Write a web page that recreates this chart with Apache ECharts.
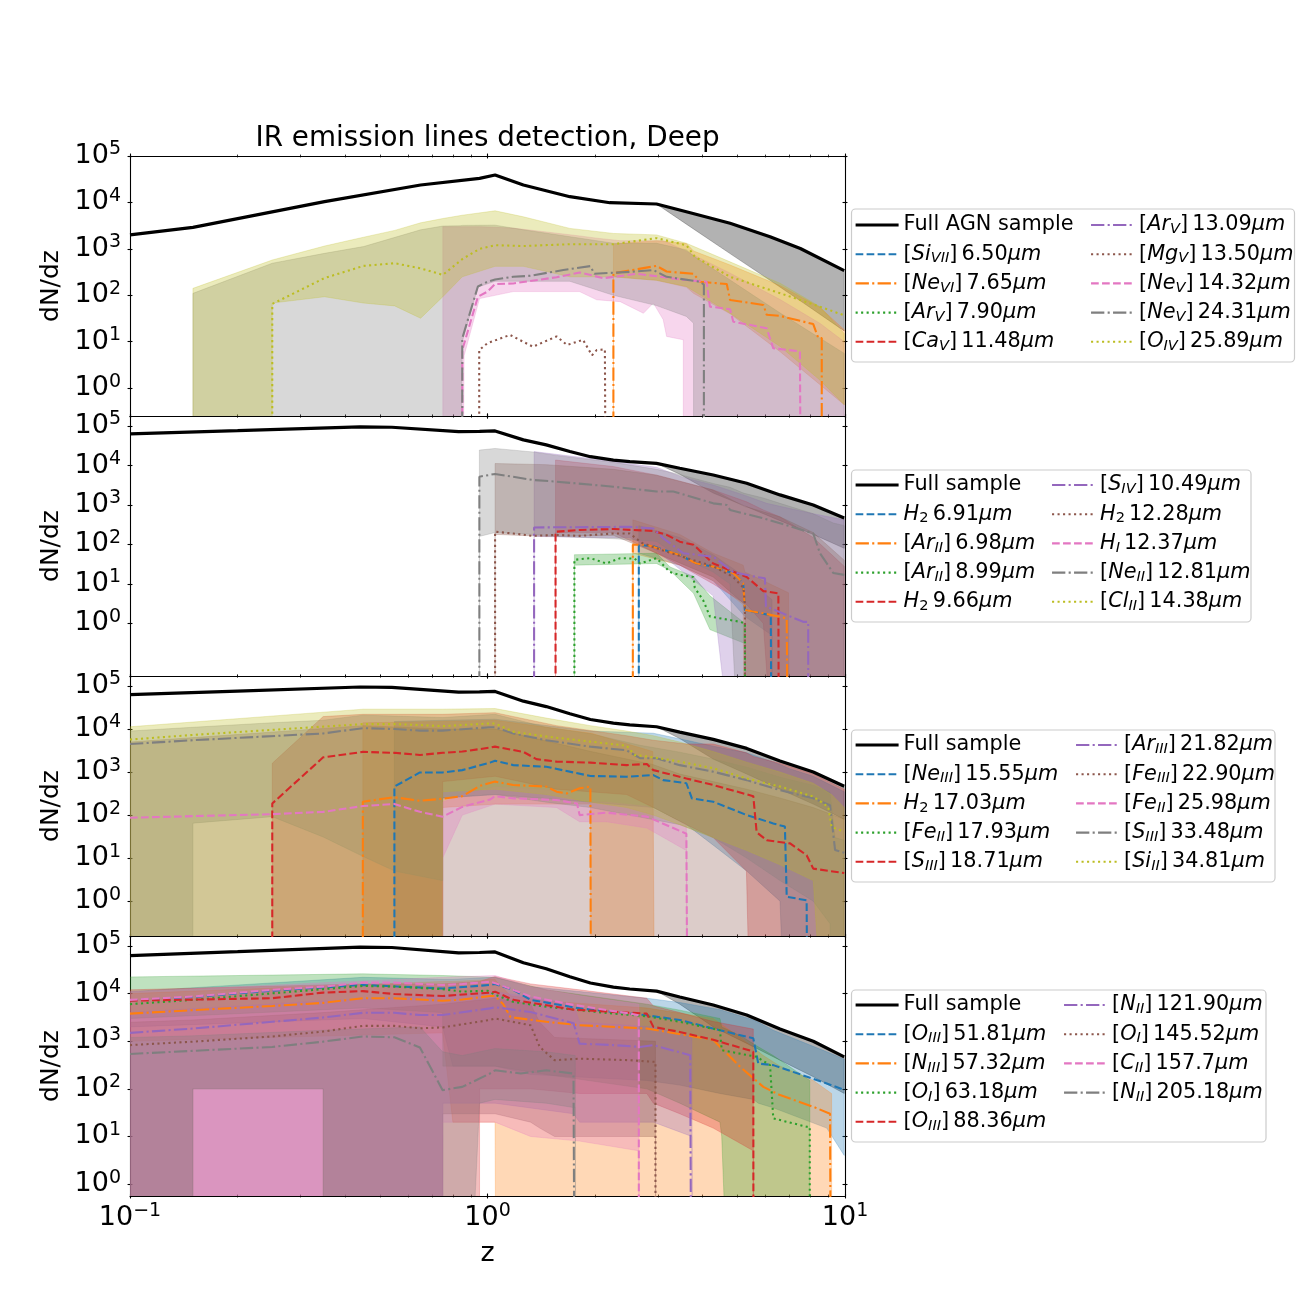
<!DOCTYPE html>
<html><head><meta charset="utf-8">
<script src="https://cdn.jsdelivr.net/npm/echarts@6/dist/echarts.min.js"></script>
<style>html,body{margin:0;padding:0;background:#fff}#chart{width:1300px;height:1300px}</style>
</head><body><div id="chart"></div>
<script>
// ---------------- DATA (z, value) for lines; (z, lower, upper) for bands ----------------
// Panel 1
const p1_full = [[0.1,2000],[0.15,2900],[0.35,10400],[0.65,23700],[0.95,33000],[1.05,39000],[1.26,23700],[1.7,13300],[2.2,9860],[2.97,9250],[3.6,6300],[4.77,3550],[6.17,1830],[7.5,1020],[9.95,340]];
const p1_full_band = [[2.97,9250,9250],[3.6,3400,6300],[4.77,790,3550],[6.17,210,1830],[7.5,76,1020],[9.95,17,340]];
const p1_NeVI = [[2.25,0],[2.25,297],[2.97,430],[3.17,325],[3.77,290],[3.93,196],[4.67,175],[4.77,79],[5.91,62],[6.04,38],[6.58,36],[8.15,24],[8.42,12],[8.61,12],[8.61,0]];
const p1_NeVI_band = [[2.25,0,0],[2.25,250,1270],[2.97,210,1500],[3.6,150,1300],[3.77,110,900],[4.77,40,450],[6.6,6,160],[8.5,1.2,55],[9.95,0.44,18]];
const p1_MgV = [[0.948,0],[0.948,6.6],[1.0,9.3],[1.156,14],[1.34,7.8],[1.56,13],[1.67,8.5],[1.85,11],[1.96,5.1],[2.02,6.6],[2.13,6.8],[2.15,6.8],[2.15,0]];
const p1_NeV14 = [[0.85,0],[0.85,6.6],[0.94,93],[1.0,120],[1.05,174],[1.18,180],[1.56,245],[1.81,310],[2.11,234],[2.61,290],[3.04,252],[3.45,220],[4.10,195],[4.19,57],[4.77,50],[4.87,27],[6.04,19.5],[6.30,7.2],[7.48,6.2],[7.56,6.2],[7.56,0]];
const p1_NeV14_band = [[0.75,0,0],[0.75,0,3000],[0.85,0,3000],[0.86,5,3000],[0.95,85,3000],[1.18,120,2800],[1.81,120,1900],[2.02,80,1700],[2.35,73,1500],[2.73,41,1500],[2.91,68,1500],[3.1,30,1500],[3.17,13,1400],[3.53,11,950],[3.53,0,950],[4.77,0,300],[6.6,0,80],[8.5,0,25],[9.95,0,10]];
const p1_NeV24 = [[0.85,0],[0.85,11.8],[0.94,155],[1.0,196],[1.05,218],[1.18,250],[1.315,263],[1.63,350],[1.94,425],[1.99,290],[2.5,320],[2.91,350],[3.17,250],[3.93,195],[4.03,170],[4.03,0]];
const p1_NeV24_band = [[0.15,0,0],[0.15,0,110],[0.25,0,490],[0.35,0,800],[0.45,0,1120],[0.65,0,2570],[0.75,0,3100],[0.84,0,3150],[0.85,10,3200],[0.94,150,3220],[1.05,200,3240],[1.26,200,2570],[1.7,200,1830],[2.25,100,1320],[2.97,60,1320],[3.6,35,950],[3.77,25,700],[3.77,0,700],[4.77,0,214],[6.6,0,41],[9.95,0,5.6]];
const p1_OIV = [[0.25,0],[0.25,65],[0.35,235],[0.45,430],[0.55,490],[0.65,380],[0.75,275],[0.85,600],[0.95,1000],[1.05,1200],[1.26,1150],[1.7,1260],[2.25,1260],[2.97,1700],[3.6,1200],[3.8,680],[4.77,250],[6.6,110],[8.5,57],[9.95,37]];
const p1_OIV_band = [[0.15,0,0],[0.15,0,141],[0.25,0,575],[0.25,68,575],[0.35,93,1150],[0.45,68,1780],[0.55,59,2500],[0.65,32,3640],[0.75,93,4500],[0.85,250,5300],[1.05,420,6600],[1.26,420,4900],[1.7,250,2760],[2.25,250,2150],[2.97,210,2000],[3.6,155,1320],[4.77,41,525],[6.6,7.8,180],[8.5,1.5,57],[9.95,0.44,15]];

// Full sample (panels 2-4)
const full_sample = [[0.1,63000],[0.2,76000],[0.44,95000],[0.54,93000],[0.83,72000],[0.95,73000],[1.05,75000],[1.26,44500],[1.46,33300],[1.7,22600],[1.94,16700],[2.25,13700],[2.5,12500],[2.97,11300],[3.45,8500],[4.28,5750],[5.31,3550],[6.58,1800],[8.15,1000],[9.95,470]];
const full_sample_band = [[2.97,11300,11300],[3.45,6000,8500],[4.28,2000,5750],[5.31,900,3550],[6.58,400,1800],[8.15,180,1000],[9.95,80,470]];

// Panel 2
const p2_H2_691 = [[2.65,0],[2.65,98],[2.91,90],[3.45,54],[3.84,33],[4.28,27.5],[4.87,18.6],[5.19,10.5],[5.25,2.2],[6.2,1.6],[6.25,1.6],[6.25,0]];
const p2_H2_691_band = [[2.65,0,0],[2.65,60,300],[3.45,30,150],[4.28,12,55],[5.25,1.5,15],[6.25,0.5,4],[6.26,0,0]];
const p2_ArII_698 = [[2.55,0],[2.55,98],[2.79,98],[3.45,54],[3.84,33],[4.28,27.5],[4.87,18.6],[5.19,10.5],[5.25,2.2],[5.91,1.8],[6.87,1.35],[6.95,1.35],[6.95,0]];
const p2_ArII_698_band = [[2.55,0,0],[2.55,60,420],[3.45,30,180],[4.28,12,60],[5.19,3,30],[5.25,0,20],[6.95,0,6],[7.0,0,0]];
const p2_ArII_899 = [[1.75,0],[1.75,41],[1.94,45],[2.15,33],[2.35,45],[2.58,44],[2.67,33],[2.97,45],[3.24,20],[3.45,17],[3.77,15],[3.8,8],[4.01,3.9],[4.19,1.5],[5.09,1.1],[5.25,1.0],[5.25,0]];
const p2_ArII_899_band = [[1.75,0,0],[1.75,30,55],[2.97,33,60],[3.24,22,27],[3.77,5.8,15.5],[4.19,0.7,5],[5.25,0.31,1.0],[5.26,0,0]];
const p2_H2_966 = [[1.55,0],[1.55,210],[1.81,233],[2.25,246],[2.91,220],[3.17,175],[3.45,118],[3.77,98],[4.28,33],[5.31,15],[5.91,6.6],[6.51,5.8],[6.54,5.8],[6.54,0]];
const p2_H2_966_band = [[1.55,0,0],[1.55,200,13700],[2.25,200,9400],[2.97,60,5700],[3.45,30,4000],[4.28,10,2400],[5.31,3,1200],[5.91,1,750],[6.58,0,500],[8.15,0,150],[9.95,0,28]];
const p2_SIV = [[1.35,0],[1.35,270],[2.5,280],[2.91,255],[3.10,145],[3.53,60],[4.28,49],[4.87,20],[5.66,15],[5.97,14],[6.01,2.7],[7.64,1.1],[7.89,1.1],[7.89,0]];
const p2_SIV_band = [[1.35,0,0],[1.35,160,22500],[1.94,150,15000],[2.5,150,11000],[2.97,70,9000],[3.53,20,5000],[4.28,5,3200],[5.2,0,1800],[6.04,0,1100],[8.15,0,600],[9.95,0,420]];
const p2_H2_1228 = [[1.05,0],[1.05,210],[1.18,190],[1.34,165],[1.56,175],[1.81,165],[2.25,190],[2.5,190],[2.7,110],[3.1,70],[3.77,40],[4.28,28],[4.87,15],[5.2,8],[5.25,3],[5.25,0]];
const p2_H2_1228_band = [[1.05,0,0],[1.05,180,11200],[1.46,160,10500],[2.25,170,8000],[2.97,60,5700],[4.28,15,2400],[5.25,3,900],[5.3,0,900],[6.58,0,500],[8.15,0,200],[9.95,0,40]];
const p2_NeII = [[0.949,0],[0.949,5200],[1.05,6100],[1.34,4300],[1.56,3900],[2.25,2900],[2.97,2200],[3.31,2200],[4.28,1100],[4.67,1000],[4.77,750],[5.91,460],[6.58,345],[8.15,190],[8.51,60],[9.27,19],[9.95,17]];
const p2_NeII_band = [[0.949,0,0],[0.949,160,24500],[1.05,200,27000],[1.34,180,22000],[1.56,160,18000],[2.25,140,12000],[2.97,120,8000],[3.31,60,6500],[4.28,20,3500],[4.77,10,2800],[5.2,0,2000],[5.91,0,1500],[6.58,0,1100],[8.15,0,600],[9.27,0,350],[9.95,0,300]];

// Panel 3
const p3_NeIII = [[0.549,0],[0.549,460],[0.647,980],[0.749,980],[0.85,1110],[1.016,1660],[1.05,1840],[1.18,1450],[1.46,1330],[1.94,810],[2.45,780],[2.91,850],[3.10,650],[3.6,550],[3.73,245],[4.28,205],[5.31,100],[6.30,64],[6.79,54],[6.87,1.26],[7.81,1.05],[7.89,1.05],[7.89,0]];
const p3_NeIII_band = [[0.549,0,0],[0.549,0,15000],[0.749,0,16000],[0.749,250,16000],[1.05,300,17000],[1.94,200,9000],[2.91,150,8000],[3.6,60,5500],[4.28,20,4000],[5.31,5,2800],[6.58,1,1500],[7.0,0,1200],[8.15,0,800],[9.95,0,350]];
const p3_H2 = [[0.448,0],[0.448,205],[0.549,260],[0.647,215],[0.749,240],[0.85,275],[0.953,480],[1.05,600],[1.18,500],[1.46,460],[1.56,350],[1.67,320],[1.81,420],[1.94,460],[1.95,460],[1.95,0]];
const p3_H2_band = [[0.448,0,0],[0.448,0,14000],[0.749,0,15000],[0.749,150,15000],[1.05,180,16000],[1.94,180,8000],[1.95,0,8000],[2.9,0,3000],[2.95,0,0]];
const p3_SIII18 = [[0.25,0],[0.25,186],[0.347,2200],[0.448,2950],[0.549,2800],[0.647,2500],[0.749,2800],[0.85,3000],[1.016,3700],[1.05,3900],[1.26,2950],[1.37,2000],[1.56,1750],[1.94,1660],[2.45,1450],[2.79,1540],[2.91,1110],[3.6,710],[4.28,500],[5.54,275],[5.66,40],[6.04,26],[7.02,22],[7.81,11.7],[8.15,5.7],[9.95,4.5]];
const p3_SIII18_band = [[0.25,0,0],[0.25,0,1600],[0.347,0,19500],[0.448,0,22000],[0.749,0,22000],[0.749,600,22000],[1.05,800,24000],[1.56,400,12000],[2.45,300,7000],[2.91,150,5500],[3.6,60,4500],[4.28,30,4500],[5.3,5,2800],[5.54,0,2300],[6.58,0,1600],[8.15,0,900],[9.95,0,400]];
const p3_FeIII_band = [[0.1,0,5000],[0.45,0,12000],[0.75,0,10000],[1.05,0,10000],[1.95,0,3000],[2.9,0,1500],[3.45,0,900],[4.28,0,600],[5.31,0,400],[6.58,0,250],[8.15,0,150],[9.95,0,80]];
const p3_FeII26 = [[0.1,87],[0.25,105],[0.347,119],[0.448,162],[0.549,182],[0.647,119],[0.749,92],[0.85,155],[1.016,230],[1.05,275],[1.18,245],[1.56,225],[1.78,186],[1.81,100],[2.15,114],[2.79,92],[3.6,37],[3.64,37],[3.64,0]];
const p3_FeII26_band = [[0.749,0,0],[0.749,10,200],[0.85,100,300],[1.05,180,450],[1.56,150,380],[1.81,70,200],[2.15,70,200],[2.79,50,160],[3.6,15,60],[3.64,0,0]];
const p3_SIII33 = [[0.1,4500],[0.15,5500],[0.347,7900],[0.448,10500],[0.549,10000],[0.647,9200],[0.749,9200],[1.016,11000],[1.05,11000],[1.18,7900],[1.46,5500],[1.94,3900],[2.45,3200],[2.67,2100],[2.97,2100],[3.45,1450],[4.28,1020],[5.31,650],[6.58,380],[8.15,245],[9.08,170],[9.38,15.5],[9.95,13.3]];
const p3_SIII33_band = [[0.1,0,9000],[0.15,0,11000],[0.15,65,11000],[0.25,92,14000],[0.347,31,16000],[0.448,11,21000],[0.55,5,20000],[0.749,3,18500],[0.749,250,18500],[1.05,300,22000],[1.46,200,11000],[1.94,150,7800],[2.67,90,4200],[3.45,60,2900],[4.28,30,2000],[5.31,10,1300],[6.58,3,760],[8.15,1,490],[9.08,0.3,340],[9.38,0,30],[9.95,0,26]];
const p3_SiII = [[0.1,5700],[0.15,7300],[0.347,11400],[0.448,13000],[0.549,13000],[0.647,12400],[0.749,11700],[1.016,13500],[1.05,13500],[1.18,8700],[1.46,6700],[1.94,5100],[2.45,4100],[2.58,2500],[2.91,2200],[3.45,1750],[4.28,1230],[5.31,710],[6.58,460],[8.15,270],[8.98,155],[9.17,53],[9.95,41]];
const p3_SiII_band = [[0.1,0,11300],[0.45,0,29000],[0.749,0,29000],[0.749,350,29000],[1.05,400,30000],[1.46,300,18000],[1.94,200,12000],[2.45,150,9000],[2.91,100,7000],[3.45,60,5000],[4.28,30,3000],[5.31,15,1700],[6.58,7,1000],[8.15,3,550],[9.17,0,300],[9.95,0,150]];

// Panel 4
const p4_OIII52 = [[0.1,7200],[0.15,8500],[0.25,11500],[0.347,13500],[0.448,15200],[0.749,12800],[1.016,15200],[1.05,16000],[1.18,12000],[1.32,7400],[1.81,4900],[2.79,3500],[3.45,2800],[4.47,1700],[5.54,1150],[5.72,340],[6.30,315],[8.89,130],[9.95,95]];
const p4_OIII52_band = [[0.1,2000,11000],[0.448,3000,22000],[0.749,2000,20000],[0.8,300,20000],[1.05,300,22000],[1.32,200,14000],[2.79,150,8000],[3.45,120,6500],[4.47,80,4600],[5.54,60,2800],[5.72,50,2500],[6.3,40,1700],[8.89,15,600],[9.95,4,420]];
const p4_NIII = [[0.1,3800],[0.15,4500],[0.25,5500],[0.347,6400],[0.448,8000],[0.549,8000],[0.749,7100],[0.85,7500],[1.016,8900],[1.05,8900],[1.107,6000],[1.16,3200],[1.46,2560],[1.81,2170],[2.79,1850],[4.28,1070],[5.09,290],[5.91,110],[6.58,74],[8.15,42],[9.08,30],[9.17,30],[9.17,0]];
const p4_NIII_band = [[0.1,1000,10000],[0.749,1500,18000],[0.8,20,18000],[1.05,20,20000],[1.06,0,18000],[1.16,0,9000],[1.46,0,7000],[2.79,0,5000],[4.28,0,3000],[5.09,0,1200],[5.91,0,500],[6.58,0,300],[8.15,0,150],[9.17,0,80],[9.2,0,0]];
const p4_OI63 = [[0.1,6000],[0.15,7400],[0.347,12400],[0.448,14500],[0.549,14000],[0.749,12400],[0.85,11000],[1.0,11500],[1.05,9500],[1.18,6700],[1.46,5300],[2.25,3800],[2.79,3350],[3.45,2560],[4.47,1700],[4.52,650],[5.66,470],[6.17,315],[6.30,24],[7.81,16],[7.97,16],[7.97,0]];
const p4_OI63_band = [[0.1,3000,22400],[0.448,5000,26000],[0.749,4000,24000],[0.75,300,24000],[1.05,300,22000],[1.46,200,12000],[2.79,100,6000],[3.45,50,4500],[4.47,20,3000],[4.52,10,2000],[4.9,0,1500],[5.2,0,1200],[5.66,0,800],[6.3,0,500],[7.97,0,150],[8.0,0,0]];
const p4_OIII88 = [[0.1,7100],[0.25,8000],[0.347,10500],[0.448,11300],[0.549,9800],[0.749,8900],[1.016,10500],[1.05,11000],[1.18,7400],[1.74,4600],[2.79,3800],[2.91,2000],[3.45,1570],[4.28,1070],[5.54,610],[5.55,0]];
const p4_OIII88_band = [[0.1,0,12000],[0.448,0,16000],[0.749,0,16000],[0.95,0,18000],[0.95,100,18000],[1.05,100,23000],[1.32,100,16000],[1.81,80,12000],[2.79,80,8000],[2.91,50,5500],[3.45,30,4000],[4.28,15,2600],[5.54,5,1800],[5.55,0,0]];
const p4_NII122 = [[0.1,1500],[0.15,1850],[0.25,2560],[0.347,3150],[0.448,3950],[0.549,3950],[0.647,3550],[0.749,3550],[1.016,4900],[1.05,5200],[1.32,4100],[1.74,2400],[1.81,890],[2.25,830],[2.67,760],[2.91,830],[3.69,510],[3.73,510],[3.73,0]];
const p4_NII122_band = [[0.1,0,4000],[0.347,0,7000],[0.749,0,9000],[0.75,50,9000],[1.05,50,11000],[1.74,30,6000],[1.81,20,2500],[2.91,20,2000],[3.73,10,1200],[3.75,0,0]];
const p4_OI146 = [[0.1,830],[0.15,980],[0.25,1260],[0.347,1600],[0.448,2100],[0.549,2100],[0.647,1870],[0.749,1950],[1.016,2800],[1.05,3000],[1.32,2170],[1.40,760],[1.54,400],[1.81,430],[2.50,400],[2.91,370],[2.95,370],[2.95,0]];
const p4_OI146_band = [[0.1,0,2500],[0.15,0,2800],[0.15,100,2800],[0.347,100,4000],[0.347,0,4000],[0.749,0,6000],[0.75,30,6000],[1.05,30,8000],[1.32,20,6000],[1.4,15,2500],[1.54,10,1200],[2.95,10,1000],[2.96,0,0]];
const p4_CII = [[0.1,7400],[0.15,8700],[0.25,12000],[0.347,14000],[0.448,17000],[0.549,17000],[0.749,15200],[0.85,15900],[1.016,17700],[1.05,16600],[1.18,12000],[1.32,8700],[1.74,5800],[2.5,3800],[2.65,3500],[2.65,0]];
const p4_CII_band = [[0.1,0,11000],[0.749,0,22000],[0.749,20,22000],[1.05,20,24000],[1.32,10,14000],[1.81,8,9000],[2.65,5,6000],[2.66,0,0]];
const p4_NII205 = [[0.1,540],[0.25,760],[0.347,980],[0.448,1260],[0.549,1210],[0.647,740],[0.749,94],[0.85,110],[1.016,210],[1.05,245],[1.24,210],[1.46,245],[1.74,210],[1.76,210],[1.76,0]];
const p4_NII205_band = [[0.1,0,1200],[0.15,0,1300],[0.15,100,1300],[0.347,100,1700],[0.347,0,1700],[0.647,0,2000],[0.749,0,600],[0.85,0,500],[0.95,50,600],[1.05,60,700],[1.46,50,600],[1.76,40,500],[1.77,0,0]];

// Tick values
const xMajorTicks = [0.1, 1, 10];
const xMinorTicks = [0.2,0.3,0.4,0.5,0.6,0.7,0.8,0.9,2,3,4,5,6,7,8,9];
const yMajorTicks = [1, 10, 100, 1000, 10000, 100000];

// ---------------- STYLE / LAYOUT ----------------
const FONT = 'DejaVu Sans';
const TINY = 1e-6;
const pos = v => (v > 0 ? v : TINY);
const COLORS = {blue:'#1f77b4', orange:'#ff7f0e', green:'#2ca02c', red:'#d62728', purple:'#9467bd', brown:'#8c564b', pink:'#e377c2', gray:'#7f7f7f', olive:'#bcbd22'};
const DASHES = {solid:'solid', dashed:[7.7,3.3], dashdot:[13.3,3.3,2.1,3.3], dotted:[2.1,3.4]};
const GRID = {left:130, width:715, height:260, tops:[156,416,676,936]};

const panels = [
  {ymin: Math.pow(10,-0.6), ymax: 1e5, fullName:'Full AGN sample', full:p1_full, fullBand:p1_full_band,
   items:[
     {name:'[Si_VII] 6.50μm', c:'blue', ls:'dashed', line:[], band:null},
     {name:'[Ne_VI] 7.65μm', c:'orange', ls:'dashdot', line:p1_NeVI, band:p1_NeVI_band},
     {name:'[Ar_V] 7.90μm', c:'green', ls:'dotted', line:[], band:null},
     {name:'[Ca_V] 11.48μm', c:'red', ls:'dashed', line:[], band:null},
     {name:'[Ar_V] 13.09μm', c:'purple', ls:'dashdot', line:[], band:null},
     {name:'[Mg_V] 13.50μm', c:'brown', ls:'dotted', line:p1_MgV, band:null},
     {name:'[Ne_V] 14.32μm', c:'pink', ls:'dashed', line:p1_NeV14, band:p1_NeV14_band},
     {name:'[Ne_V] 24.31μm', c:'gray', ls:'dashdot', line:p1_NeV24, band:p1_NeV24_band},
     {name:'[O_IV] 25.89μm', c:'olive', ls:'dotted', line:p1_OIV, band:p1_OIV_band}
   ], legend:{top:213, col2:1090, frame:[851.5,209,443,153]}},
  {ymin: Math.pow(10,-1.33), ymax: Math.pow(10,5.253), fullName:'Full sample', full:full_sample, fullBand:full_sample_band,
   items:[
     {name:'H_2 6.91μm', c:'blue', ls:'dashed', line:p2_H2_691, band:p2_H2_691_band},
     {name:'[Ar_II] 6.98μm', c:'orange', ls:'dashdot', line:p2_ArII_698, band:p2_ArII_698_band},
     {name:'[Ar_II] 8.99μm', c:'green', ls:'dotted', line:p2_ArII_899, band:p2_ArII_899_band},
     {name:'H_2 9.66μm', c:'red', ls:'dashed', line:p2_H2_966, band:p2_H2_966_band},
     {name:'[S_IV] 10.49μm', c:'purple', ls:'dashdot', line:p2_SIV, band:p2_SIV_band},
     {name:'H_2 12.28μm', c:'brown', ls:'dotted', line:p2_H2_1228, band:p2_H2_1228_band},
     {name:'H_I 12.37μm', c:'pink', ls:'dashed', line:[], band:null},
     {name:'[Ne_II] 12.81μm', c:'gray', ls:'dashdot', line:p2_NeII, band:p2_NeII_band},
     {name:'[Cl_II] 14.38μm', c:'olive', ls:'dotted', line:[], band:null}
   ], legend:{top:473, col2:1051, frame:[851.5,470,399.5,152]}},
  {ymin: Math.pow(10,-0.81), ymax: Math.pow(10,5.233), fullName:'Full sample', full:full_sample, fullBand:full_sample_band,
   items:[
     {name:'[Ne_III] 15.55μm', c:'blue', ls:'dashed', line:p3_NeIII, band:p3_NeIII_band},
     {name:'H_2 17.03μm', c:'orange', ls:'dashdot', line:p3_H2, band:p3_H2_band},
     {name:'[Fe_II] 17.93μm', c:'green', ls:'dotted', line:[], band:null},
     {name:'[S_III] 18.71μm', c:'red', ls:'dashed', line:p3_SIII18, band:p3_SIII18_band},
     {name:'[Ar_III] 21.82μm', c:'purple', ls:'dashdot', line:[], band:null},
     {name:'[Fe_III] 22.90μm', c:'brown', ls:'dotted', line:[], band:p3_FeIII_band},
     {name:'[Fe_II] 25.98μm', c:'pink', ls:'dashed', line:p3_FeII26, band:p3_FeII26_band},
     {name:'[S_III] 33.48μm', c:'gray', ls:'dashdot', line:p3_SIII33, band:p3_SIII33_band},
     {name:'[Si_II] 34.81μm', c:'olive', ls:'dotted', line:p3_SiII, band:p3_SiII_band}
   ], legend:{top:733, col2:1075, frame:[851.5,730,423.5,152]}},
  {ymin: Math.pow(10,-0.25), ymax: Math.pow(10,5.21), fullName:'Full sample', full:full_sample, fullBand:full_sample_band,
   items:[
     {name:'[O_III] 51.81μm', c:'blue', ls:'dashed', line:p4_OIII52, band:p4_OIII52_band},
     {name:'[N_III] 57.32μm', c:'orange', ls:'dashdot', line:p4_NIII, band:p4_NIII_band},
     {name:'[O_I] 63.18μm', c:'green', ls:'dotted', line:p4_OI63, band:p4_OI63_band},
     {name:'[O_III] 88.36μm', c:'red', ls:'dashed', line:p4_OIII88, band:p4_OIII88_band},
     {name:'[N_II] 121.90μm', c:'purple', ls:'dashdot', line:p4_NII122, band:p4_NII122_band},
     {name:'[O_I] 145.52μm', c:'brown', ls:'dotted', line:p4_OI146, band:p4_OI146_band},
     {name:'[C_II] 157.7μm', c:'pink', ls:'dashed', line:p4_CII, band:p4_CII_band},
     {name:'[N_II] 205.18μm', c:'gray', ls:'dashdot', line:p4_NII205, band:p4_NII205_band}
   ], legend:{top:993, col2:1063, frame:[851.5,990,414.5,152]}}
];

// ---------------- BUILD OPTION ----------------
function powLabel(v){
  const e = Math.round(Math.log10(v));
  return '{b|10}{s|' + (e < 0 ? '\u2212' + (-e) : e) + '}';
}
const labelRich = {
  b:{fontSize:27, fontFamily:FONT, color:'#000', lineHeight:32},
  s:{fontSize:19, fontFamily:FONT, color:'#000', lineHeight:14, verticalAlign:'top'}
};
const legendRich = {
  r:{fontSize:20.8, fontFamily:FONT, color:'#000', lineHeight:24},
  g:{fontSize:13, fontFamily:FONT, color:'#000', lineHeight:24},
  i:{fontSize:20.8, fontFamily:FONT, color:'#000', lineHeight:24, fontStyle:'italic'},
  s:{fontSize:14.6, fontFamily:FONT, color:'#000', lineHeight:12, fontStyle:'italic', verticalAlign:'bottom'},
  u:{fontSize:14.6, fontFamily:FONT, color:'#000', lineHeight:12, verticalAlign:'bottom'}
};
function richName(n){
  const m = n.match(/^(\[?)([A-Z][a-z]?)_([A-Za-z0-9]+)(\]?) ([\d.]+)μm$/);
  if (!m) return '{r|' + n + '}';
  const sub = /^\d+$/.test(m[3]) ? '{u|' + m[3] + '}' : '{s|' + m[3] + '}';
  return (m[1] ? '{r|[}' : '') + '{i|' + m[2] + '}' + sub + (m[4] ? '{r|]}' : '') + '{g| }{r|' + m[5] + '}' + '{i|μm}';
}

const grids = [], xAxes = [], yAxes = [], series = [], legends = [], graphics = [];
const axisLineStyle = {color:'#000', width:1.1};

function lineSeries(xi, yi, name, color, ls, data, width, z){
  return {type:'line', name, xAxisIndex:xi, yAxisIndex:yi,
    data: data.map(d => [d[0], pos(d[1])]),
    symbol:'none', showSymbol:false, smooth:false, clip:true, silent:true,
    lineStyle:{color, width, type:DASHES[ls]}, itemStyle:{color}, z};
}
// Band: filled polygon between lower and upper curves, placed through the axes' scales
function bandSeries(xi, yi, key, color, band, opacity){
  return {type:'custom', name:key, xAxisIndex:xi, yAxisIndex:yi, clip:true, silent:true, z:2,
    data: band.map(b => [b[0], pos(b[1]), pos(b[2])]),
    encode:{x:0, y:[1,2]},
    renderItem: function(params, api){
      if (params.dataIndexInside !== 0) return null;
      const n = params.dataInsideLength;
      const up = [], lo = [];
      for (let i = 0; i < n; i++){
        const z = api.value(0, i);
        up.push(api.coord([z, api.value(2, i)]));
        lo.push(api.coord([z, api.value(1, i)]));
      }
      return {type:'polygon', shape:{points: up.concat(lo.reverse())},
        style:{fill:color, opacity:opacity, stroke:color, lineWidth:0.8}};
    }};
}

panels.forEach((P, pi) => {
  const top = GRID.tops[pi];
  grids.push({left:GRID.left, top, width:GRID.width, height:GRID.height});
  const isLast = pi === 3;
  const xBase = {type:'log', logBase:10, gridIndex:pi, min:0.1, max:10, splitLine:{show:false}, splitArea:{show:false}};
  const xi = xAxes.length;
  xAxes.push(Object.assign({}, xBase, {position:'bottom',
    axisLine:{show:true, onZero:false, lineStyle:axisLineStyle}, axisTick:{show:false},
    axisLabel:{show:isLast, customValues:xMajorTicks, formatter:powLabel, rich:labelRich, margin:6},
    name: isLast ? 'z' : '', nameLocation:'middle', nameGap:44,
    nameTextStyle:{fontSize:27, fontFamily:FONT, color:'#000'}}));
  xAxes.push(Object.assign({}, xBase, {position:'top',
    axisLine:{show:true, onZero:false, lineStyle:axisLineStyle}, axisTick:{show:false}, axisLabel:{show:false}}));
  ['bottom','top'].forEach(p => {
    xAxes.push(Object.assign({}, xBase, {position:p, offset:-2.45,
      axisLine:{show:false, onZero:false}, axisLabel:{show:false},
      axisTick:{show:true, customValues:xMajorTicks, length:4.9, lineStyle:axisLineStyle}}));
    xAxes.push(Object.assign({}, xBase, {position:p, offset:-1.4,
      axisLine:{show:false, onZero:false}, axisLabel:{show:false},
      axisTick:{show:true, customValues:xMinorTicks, length:2.8, lineStyle:{color:'#000', width:0.8}}}));
  });

  const yBase = {type:'log', logBase:10, gridIndex:pi, min:P.ymin, max:P.ymax, splitLine:{show:false}, splitArea:{show:false}};
  const yi = yAxes.length;
  yAxes.push(Object.assign({}, yBase, {position:'left',
    axisLine:{show:true, onZero:false, lineStyle:axisLineStyle}, axisTick:{show:false},
    axisLabel:{customValues:yMajorTicks, formatter:powLabel, rich:labelRich, margin:9},
    name:'dN/dz', nameLocation:'middle', nameGap:66,
    nameTextStyle:{fontSize:25, fontFamily:FONT, color:'#000'}}));
  yAxes.push(Object.assign({}, yBase, {position:'right',
    axisLine:{show:true, onZero:false, lineStyle:axisLineStyle}, axisTick:{show:false}, axisLabel:{show:false}}));
  ['left','right'].forEach(p => {
    yAxes.push(Object.assign({}, yBase, {position:p, offset:-2.45,
      axisLine:{show:false, onZero:false}, axisLabel:{show:false},
      axisTick:{show:true, customValues:yMajorTicks, length:4.9, lineStyle:axisLineStyle}}));
  });

  // bands
  series.push(bandSeries(xi, yi, 'full band ' + pi, '#000000', P.fullBand, 0.3));
  P.items.forEach((it, k) => {
    if (it.band) series.push(bandSeries(xi, yi, 'band ' + pi + '-' + k, COLORS[it.c], it.band, 0.3));
  });
  // lines
  P.items.forEach(it => series.push(lineSeries(xi, yi, it.name, COLORS[it.c], it.ls, it.line, 2.08, 3)));
  series.push(lineSeries(xi, yi, P.fullName, '#000000', 'solid', P.full, 3.2, 4));

  // legends (two columns)
  const names = [P.fullName].concat(P.items.map(it => it.name));
  const col1 = names.slice(0, 5), col2 = names.slice(5);
  const lgBase = {orient:'vertical', padding:0, itemGap:5.2, itemWidth:43, itemHeight:14, selectedMode:false,
    formatter: richName,
    itemStyle:{opacity:0},
    lineStyle:{width:'inherit', type:'inherit'},
    textStyle:{fontSize:20.8, fontFamily:FONT, color:'#000', lineHeight:24, rich:legendRich}};
  legends.push(Object.assign({}, lgBase, {left:854, top:P.legend.top, data:col1}));
  legends.push(Object.assign({}, lgBase, {left:P.legend.col2, top:P.legend.top, data:col2}));
  const f = P.legend.frame;
  graphics.push({type:'rect', z:0, shape:{x:f[0], y:f[1], width:f[2], height:f[3], r:4},
    style:{fill:'rgba(255,255,255,0.8)', stroke:'#cccccc', lineWidth:1.2}});
});

graphics.push({type:'text', x:487.5, y:139, z:10,
  style:{text:'IR emission lines detection, Deep', fontSize:27.8, fontFamily:FONT, fill:'#000',
    textAlign:'center', textVerticalAlign:'middle', verticalAlign:'middle'}});

const chart = echarts.init(document.getElementById('chart'), null, {renderer:'canvas', width:1300, height:1300});
chart.setOption({
  animation:false,
  backgroundColor:'#ffffff',
  grid:grids, xAxis:xAxes, yAxis:yAxes,
  legend:legends,
  graphic:{elements:graphics},
  series
});
</script></body></html>
